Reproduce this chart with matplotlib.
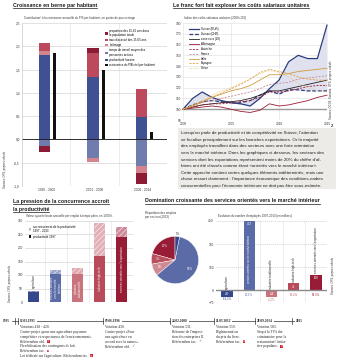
import matplotlib
matplotlib.use('Agg')
import matplotlib.pyplot as plt
import matplotlib.transforms as mtransforms
from matplotlib.lines import Line2D
from matplotlib.patches import Rectangle, Patch
import numpy as np

plt.rcParams['font.family'] = ['Liberation Sans', 'DejaVu Sans']
plt.rcParams['hatch.linewidth'] = 0.35

# --- croissance par habitant (points de pourcentage)
periods = ['1995 - 2000', '2001 - 2008', '2008 - 2014']
productivite = [1.82, 1.33, 0.48]
temps_travail = [-0.15, -0.40, -0.58]
chomage = [0.08, -0.08, -0.14]
taux_activite = [0.17, 0.52, 0.61]
proportion = [-0.12, 0.11, -0.23]
pib_hab = [1.85, 1.50, 0.17]

# --- coûts salariaux unitaires (2000=100)
years = list(range(2000, 2016))
suisse_eur = [100, 110, 116, 111, 108, 106, 105, 103, 110, 119, 127, 144, 150, 147, 147, 178]
suisse_chf = [100, 104, 107, 108, 107, 106, 106, 108, 113, 117, 114, 118, 118, 117, 117, 117]
zone_euro = [100, 102, 104, 105, 106, 107, 108, 110, 113, 117, 117, 119, 121, 123, 125, 127]
allemagne = [100, 101, 102, 103, 102, 100, 98, 97, 99, 105, 103, 104, 106, 108, 111, 113]
autriche = [100, 102, 104, 105, 105, 106, 107, 108, 111, 116, 116, 117, 119, 121, 122, 122]
france = [100, 103, 106, 108, 110, 112, 114, 116, 119, 123, 124, 125, 128, 129, 130, 131]
italie = [100, 103, 107, 111, 114, 117, 119, 122, 127, 132, 132, 133, 135, 136, 137, 138]
espagne = [100, 103, 107, 111, 115, 119, 123, 128, 134, 137, 135, 133, 130, 128, 127, 127]
grece = [100, 104, 108, 113, 117, 120, 124, 128, 133, 136, 134, 130, 124, 120, 117, 116]

# --- secteurs
sectors = ['agriculture', 'services orientés\nvers le marché\nintérieur', 'industrie\ntraditionnelle',
           'industrie high-tech', "services orientés vers l'exportation"]
sector_colors = ['#34478a', '#5b6ba7', '#c9737c', '#b84a5a', '#981c36']
growth_colors = ['#7f8cbb', '#9ea8cf', '#e2aab0', '#e3b0b7', '#cf8a99']
prod_1997 = [38, 104, 105, 172, 240]
prod_2013 = [42, 118, 127, 293, 277]

pie_labels = ['services export', 'industrie high-tech', 'industrie traditionnelle',
              'services marché intérieur', 'agriculture']
pie_shares = [20, 7, 8, 59, 3]
pie_colors = ['#981c36', '#b8505d', '#d08a91', '#5b6ba7', '#34478a']

emploi_diff = [-40, 453, -44, 45, 100]
emploi_pct = ['-19,3%', '20,1%', '-3,2%', '15,2%', '18,3%']

# --- chronologie des votations
timeline = [
    (20, '12.03.1995', [('Votations 418 - 420.', None),
                        ('Contre-projet «pour une agriculture paysanne', None),
                        ("compétitive et respectueuse de l'environnement».", None),
                        ('Référendum obl.', 'no'),
                        ('Flexibilisation des contingents de lait.', None),
                        ('Référendum fac.', 'no'),
                        ("Loi fédérale sur l'agriculture. Référendum fac.", 'no')]),
    (105, '09.06.1996', [('Votation 430.', None), ('Contre-projet «Pour', None),
                         ('une agriculture en', None), ('accord avec la nature».', None),
                         ('Référendum obl.', 'yes')]),
    (172, '24.02.2008', [('Votation 531.', None), ("Réforme de l'imposi-", None),
                         ('tion des entreprises II.', None), ('Référendum fac.', 'yes')]),
    (216, '11.03.2012', [('Votation 559.', None), ('Réglementation', None),
                         ('du prix du livre.', None), ('Référendum fac.', 'no')]),
    (257, '28.09.2014', [('Votation 583.', None), ('Stop à la TVA dis-', None),
                         ('criminatoire pour la', None), ('restauration!. Initia-', None),
                         ('tive populaire.', 'no')]),
]

paragraph = [
    "Lorsqu'on parle de productivité et de compétitivité en Suisse, l'attention",
    "se focalise principalement sur les branches exportatrices. Or la majorité",
    "des employés travaillent dans des secteurs avec une forte orientation",
    "vers le marché intérieur. Dans les graphiques ci-dessous, les secteurs des",
    "services dont les exportations représentent moins de 20% du chiffre d'af-",
    "faires ont été classés comme étant «orientés vers le marché intérieur».",
    "Cette approche contient certes quelques éléments indéterminés, mais une",
    "chose ressort clairement : l'importance économique des conditions-cadres",
    "concurrentielles pour l'économie intérieure ne doit pas être sous-estimée.",
]

W, H = 339, 362
fig = plt.figure(figsize=(W / 100, H / 100), dpi=100)
# pixel coordinates, origin at top-left
pix = mtransforms.Affine2D().scale(1 / W, -1 / H).translate(0, 1) + fig.transFigure


def box(x0, y0, x1, y1):
    return [x0 / W, 1 - y1 / H, (x1 - x0) / W, (y1 - y0) / H]


TS = 2.3  # small text size
titles = []


def title(x, y, s):
    titles.append(fig.text(x, y, s, transform=pix, va='baseline', ha='left', fontsize=3.75,
                           fontweight='bold', color='#1a1a1a'))


def note(x, y, s, **kw):
    kw.setdefault('fontsize', TS)
    kw.setdefault('color', '#333333')
    return fig.text(x, y, s, transform=pix, **kw)


def style(ax):
    for s in ax.spines.values():
        s.set_visible(False)
    ax.tick_params(length=0, labelsize=TS, pad=1.5, colors='#333333')
    ax.set_axisbelow(True)


def fr(v, dec=1):
    return f'{v:.{dec}f}'.replace('.', ',')


# ---------------- croissance en berne
title(13, 7, 'Croissance en berne par habitant')
note(24, 18.5, 'Contribution¹ à la croissance annuelle du PIB par habitant, en points de pourcentage',
     va='center', fontsize=2.1)
ax1 = fig.add_axes(box(22, 23, 167, 186))
style(ax1)
x = np.arange(3) + 0.5
components = [
    (productivite, '#3f5190', 'productivité horaire'),
    (temps_travail, '#6e7cae', 'temps de travail moyen des\npersonnes actives'),
    (chomage, '#d3848c', 'chômage'),
    (taux_activite, '#bd4a5c', "taux d'activité des 15-65 ans"),
    (proportion, '#8c1c33', 'proportion des 15-65 ans dans\nla population totale'),
]
pos = np.zeros(3)
neg = np.zeros(3)
handles = {}
for vals, col, lab in components:
    v = np.array(vals)
    bottom = np.where(v >= 0, pos, neg)
    handles[lab] = ax1.bar(x - 0.03, v, 0.23, bottom=bottom, color=col, label=lab, linewidth=0)
    pos += np.clip(v, 0, None)
    neg += np.clip(v, None, 0)
bpib = ax1.bar(x + 0.18, pib_hab, 0.065, color='#111111', label='croissance du PIB réel par habitant')
ax1.axhline(0, color='#111111', lw=0.6)
ax1.set_xlim(0, 3)
ax1.set_ylim(-1, 2.5)
yt = np.arange(-1, 2.51, 0.5)
ax1.set_yticks(yt, [fr(v) for v in yt])
ax1.set_xticks(x, periods)
ax1.grid(axis='y', color='#cccccc', lw=0.4)
for xv in (1, 2):
    ax1.axvline(xv, color='#dddddd', lw=0.4, zorder=0)
ax1.spines['left'].set_visible(True)
ax1.spines['left'].set_color('#bbbbbb')
ax1.spines['left'].set_linewidth(0.4)
order = [components[4][2], components[3][2], components[2][2], components[1][2], components[0][2]]
ax1.legend([handles[k] for k in order] + [bpib], order + ['croissance du PIB réel par habitant'],
           loc='upper left', bbox_to_anchor=(0.565, 0.975), frameon=False, fontsize=2.1,
           handlelength=0.8, handleheight=0.9, labelspacing=0.35, borderpad=0, handletextpad=0.6)
note(5, 170, 'Sources: OFS, propres calculs', rotation=90, va='center', ha='center', fontsize=2.0)

# ---------------- coûts salariaux unitaires
title(173, 7, 'Le franc fort fait exploser les coûts salariaux unitaires')
note(184, 18.5, 'Indice des coûts salariaux unitaires (2000=100)', va='center', fontsize=2.1)
ax2 = fig.add_axes(box(183, 23, 327, 120))
style(ax2)
ax2.fill_between(years, suisse_chf, suisse_eur, color='#dfe2ee', lw=0, zorder=1)
ax2.axhline(100, color='#9a9a9a', lw=1.0, zorder=1)
series = [
    (suisse_eur, 'Suisse (EUR)', '#2b3b7c', '-', 0.9),
    (suisse_chf, 'Suisse (CHF)', '#2b3b7c', (0, (3, 1.5)), 0.9),
    (zone_euro, 'zone euro (18)', '#222222', '-', 0.6),
    (allemagne, 'Allemagne', '#9a1b35', '-', 0.6),
    (autriche, 'Autriche', '#9a1b35', (0, (2.5, 1.5)), 0.6),
    (france, 'France', '#c98a98', (0, (2.5, 1.5)), 0.6),
    (italie, 'Italie', '#d19a3e', '-', 0.6),
    (espagne, 'Espagne', '#e0a040', (0, (2.5, 1.5)), 0.6),
    (grece, 'Grèce', '#ecc585', (0, (1, 1)), 0.6),
]
for vals, lab, col, ls, lw in series:
    ax2.plot(years, vals, color=col, ls=ls, lw=lw, label=lab, zorder=3, clip_on=False)
ax2.set_xlim(2000, 2015)
ax2.set_ylim(90, 180)
ax2.set_yticks(range(90, 181, 10))
ax2.set_xticks([2000, 2005, 2010, 2015])
ax2.grid(color='#dddddd', lw=0.4)
ax2.legend(loc='upper left', bbox_to_anchor=(0.035, 0.97), frameon=False, fontsize=2.1,
           handlelength=3.2, labelspacing=0.3, borderpad=0, handletextpad=0.8)
note(331, 90, 'Sources: OCDE, Eurostat, OFS, propres calculs', rotation=90, va='center',
     ha='center', fontsize=2.0)
note(332, 126, '2', va='center', ha='center', fontsize=3, fontweight='bold')

# texte encadré
fig.add_artist(Rectangle((178, 128), 158, 61, transform=pix, facecolor='#ecebe8',
                         edgecolor='none'))

# ---------------- pression de la concurrence
title(13, 202.5, 'La pression de la concurrence accroît')
title(13, 210.5, 'la productivité')
note(26, 216, 'Valeur ajoutée brute annuelle par emploi à temps plein, en 1000 fr.', va='center',
     fontsize=2.1)
ax3 = fig.add_axes(box(25, 221, 133, 302))
style(ax3)
xs = np.arange(5)
ax3.bar(xs, prod_1997, 0.52, color=sector_colors, lw=0)
ax3.bar(xs, np.array(prod_2013) - np.array(prod_1997), 0.52, bottom=prod_1997,
        color=growth_colors, edgecolor='white', hatch='//////', lw=0)
ax3.set_xlim(-0.39, 4.52)
ax3.set_ylim(0, 300)
ax3.set_yticks(range(0, 301, 50))
ax3.set_xticks([])
ax3.grid(axis='y', color='#cccccc', lw=0.4)
for xv in (0.5, 1.5, 2.5, 3.5):
    ax3.axvline(xv, color='#e2e2e2', lw=0.4, zorder=0)
ax3.axhline(0, color='#555555', lw=0.6)
ax3.text(0, prod_2013[0] + 8, sectors[0], rotation=90, ha='center', va='bottom', fontsize=2.1,
         color='#222222')
for i in range(1, 5):
    ax3.text(i, prod_1997[i] / 2, sectors[i], rotation=90, ha='center', va='center',
             fontsize=2.1, color='white', linespacing=1.0)
ax3.legend([Patch(facecolor='#bbbbbb', edgecolor='white', hatch='//////', lw=0),
            Patch(facecolor='#111111', lw=0)],
           ['accroissement de la productivité\n1997 - 2013', 'productivité 1997'],
           loc='upper left', bbox_to_anchor=(0.02, 0.97), frameon=False, fontsize=2.1,
           handlelength=0.8, handleheight=0.9, labelspacing=0.4, borderpad=0, handletextpad=0.8)
note(10, 283, 'Sources: OFS, propres calculs', rotation=90, va='center', ha='center', fontsize=2.0)

# ---------------- répartition des emplois
title(145, 202.5, 'Domination croissante des services orientés vers le marché intérieur')
note(145, 215, 'Répartition des emplois\npar secteur (2013)', va='center', fontsize=2.1,
     linespacing=1.0)
axp = fig.add_axes(box(145.5, 230.5, 204.5, 289.5))
wedges, _ = axp.pie(pie_shares, colors=pie_colors, startangle=90, counterclock=True,
                    wedgeprops=dict(edgecolor='white', linewidth=0.3))
for w, s in zip(wedges, pie_shares):
    ang = np.deg2rad((w.theta1 + w.theta2) / 2)
    r = 0.72 if s > 5 else 1.12
    axp.text(r * np.cos(ang), r * np.sin(ang), f'{s}%', ha='center', va='center',
             fontsize=2.2, color='white' if s > 5 else '#222222')
axp.set_aspect('equal')

# ---------------- évolution du nombre d'employés
note(218, 216, "Evolution du nombre d'employés 1997-2013 (en milliers)", va='center', fontsize=2.1)
ax5 = fig.add_axes(box(216, 221, 327, 302))
style(ax5)
ax5.bar(xs, emploi_diff, 0.52, color=sector_colors, lw=0)
ax5.set_xlim(-0.5, 4.5)
ax5.set_ylim(-75, 450)
ax5.set_yticks([-75, 0, 150, 300, 450])
ax5.set_xticks([])
ax5.grid(axis='y', color='#bbbbbb', lw=0.4, ls=(0, (2, 1.5)))
for xv in (0.5, 1.5, 2.5, 3.5):
    ax5.axvline(xv, color='#e2e2e2', lw=0.4, zorder=0)
ax5.axhline(0, color='#8a8a8a', lw=1.0)
for i, (v, p) in enumerate(zip(emploi_diff, emploi_pct)):
    yv = v - 20 if v > 0 else v / 2
    ax5.text(i, yv, str(v), ha='center', va='center', fontsize=2.1, color='white',
             bbox=dict(facecolor=sector_colors[i], edgecolor='none', pad=0.6))
    ax5.text(i, min(v, -11) - 13, p, ha='center', va='center', fontsize=2.1,
             color=sector_colors[i], clip_on=False)
lab5 = ['agriculture', 'services orientés vers le marché intérieur', 'industrie traditionnelle',
        'industrie high-tech', "services orientés vers l'exportation"]
ax5.text(0, 12, lab5[0], rotation=90, ha='center', va='bottom', fontsize=2.1, color='#222222')
ax5.text(1, 205, lab5[1], rotation=90, ha='center', va='center', fontsize=1.9, color='white')
for i in (2, 3, 4):
    ax5.text(i, max(emploi_diff[i], 0) + 12, lab5[i], rotation=90, ha='center', va='bottom',
             fontsize=2.1, color='#222222')
note(333, 275, 'Sources: OFS, propres calculs', rotation=90, va='center', ha='center', fontsize=2.0)

# ---------------- chronologie
SERIF = 'Liberation Serif'
fig.add_artist(Line2D([12, 303], [321, 321], transform=pix, color='#333333', lw=0.5))
for xd, s in ((3, '1995'), (296, '2015')):
    note(xd, 322, s, va='baseline', ha='left', fontsize=2.5, family=SERIF, fontweight='bold',
         color='#222222', bbox=dict(facecolor='white', edgecolor='none', pad=0.6))
for xt in (15, 292):
    fig.add_artist(Line2D([xt, xt], [318, 324], transform=pix, color='#333333', lw=0.5))

renderer = fig.canvas.get_renderer()
for xb, date, lines in timeline:
    fig.add_artist(Line2D([xb - 2.5, xb - 2.5], [318, 324], transform=pix, color='#333333', lw=0.5))
    note(xb, 322, date, va='baseline', ha='left', fontsize=2.5, family=SERIF, fontweight='bold',
         color='#222222', bbox=dict(facecolor='white', edgecolor='none', pad=0.6))
    for k, (s, mark) in enumerate(lines):
        ym = 328.5 + k * 4.75
        t = note(xb, ym, s, va='baseline', ha='left', fontsize=2.6, family=SERIF, color='#222222')
        if mark:
            bb = t.get_window_extent(renderer)
            xm = bb.x1 + 2.0
            if mark == 'no':
                fig.add_artist(Rectangle((xm, ym - 2.6), 2.8, 2.8, transform=pix,
                                         facecolor='#d8232a', edgecolor='none'))
                note(xm + 1.4, ym - 1.2, '×', va='center', ha='center', fontsize=2.2,
                     color='white', family='DejaVu Sans')
            else:
                note(xm + 1.4, ym - 1.2, '✓', va='center', ha='center', fontsize=3,
                     color='#5a9a3a', family='DejaVu Sans', fontweight='bold')

# paragraphe : taille réglée pour que la ligne la plus longue tienne dans le cadre
PX0, PX1 = 181, 333
base = 3.0
rows = [note(PX0, 134.3 + i * 6.55, line, va='baseline', ha='left', fontsize=base,
             color='#1e1e1e') for i, line in enumerate(paragraph)]
widest = max(t.get_window_extent(renderer).width for t in rows)
size = base * (PX1 - PX0) / widest * 0.93
for t in rows:
    t.set_fontsize(size)
while max(t.get_window_extent(renderer).x1 for t in rows) > PX1 and size > 2.0:
    size -= 0.05
    for t in rows:
        t.set_fontsize(size)

# soulignement des titres
for t in titles:
    bb = t.get_window_extent(renderer)
    yl = H - bb.y0 + 0.3
    fig.add_artist(Line2D([bb.x0, bb.x1], [yl, yl], transform=pix, color='#1a1a1a', lw=0.5))

fig.savefig('out.png', dpi=100)
